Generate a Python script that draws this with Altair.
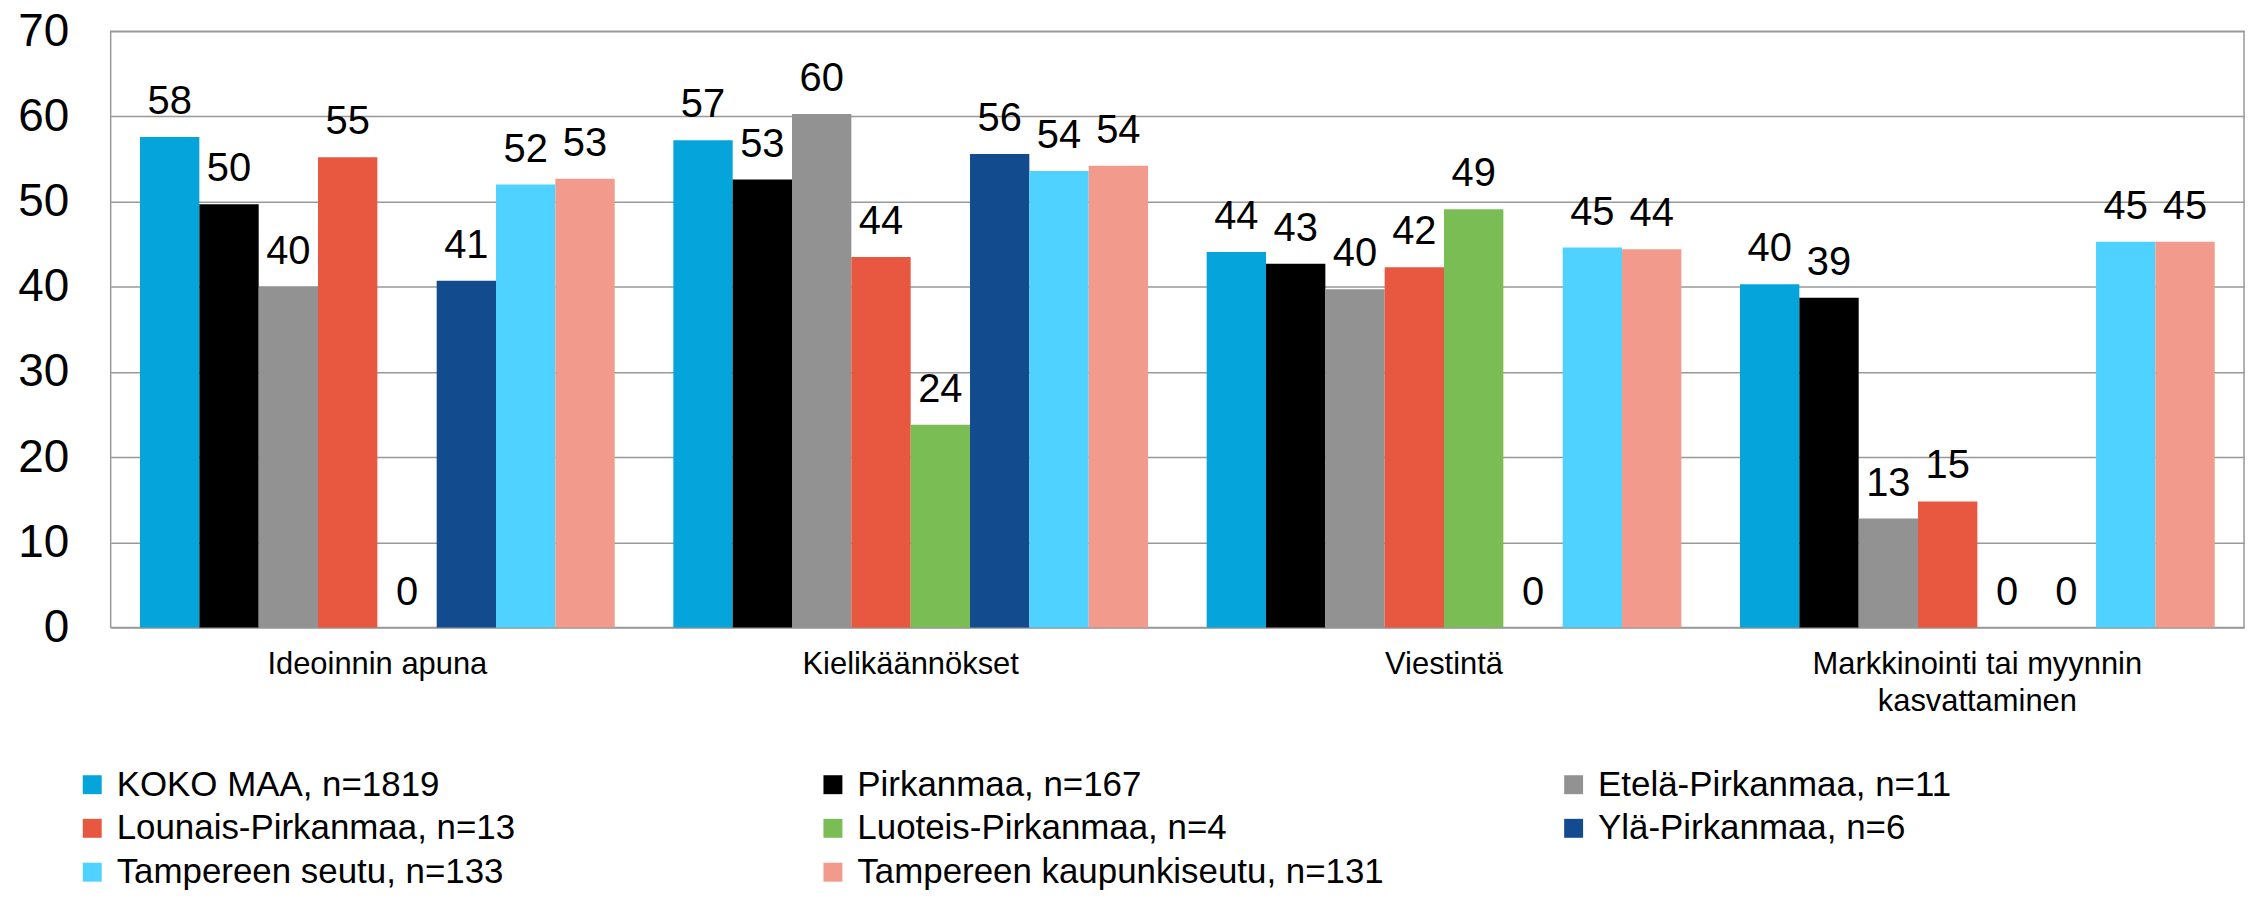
import altair as alt
import pandas as pd

FONT = "Liberation Sans, Arial, sans-serif"

categories = [
    "Ideoinnin apuna",
    "Kielikäännökset",
    "Viestintä",
    "Markkinointi tai myynnin kasvattaminen",
]
series = [
    "KOKO MAA, n=1819",
    "Pirkanmaa, n=167",
    "Etelä-Pirkanmaa, n=11",
    "Lounais-Pirkanmaa, n=13",
    "Luoteis-Pirkanmaa, n=4",
    "Ylä-Pirkanmaa, n=6",
    "Tampereen seutu, n=133",
    "Tampereen kaupunkiseutu, n=131",
]
colors = ["#05A4DA", "#000000", "#929292", "#E85841", "#79BD54", "#134B8F", "#4FD2FF", "#F29A8C"]

koko_maa = [57.6, 57.2, 44.1, 40.3]
pirkanmaa = [49.7, 52.6, 42.7, 38.7]
etela_pirkanmaa = [40.0, 60.3, 39.7, 12.8]
lounais_pirkanmaa = [55.2, 43.5, 42.3, 14.8]
luoteis_pirkanmaa = [0.0, 23.8, 49.1, 0.0]
yla_pirkanmaa = [40.7, 55.6, 0.0, 0.0]
tampereen_seutu = [52.0, 53.6, 44.6, 45.3]
tampereen_kaupunkiseutu = [52.7, 54.2, 44.4, 45.3]

values_by_series = [
    koko_maa, pirkanmaa, etela_pirkanmaa, lounais_pirkanmaa,
    luoteis_pirkanmaa, yla_pirkanmaa, tampereen_seutu, tampereen_kaupunkiseutu,
]

rows = []
for s, vals in zip(series, values_by_series):
    for c, v in zip(categories, vals):
        rows.append({"category": c, "series": s, "value": v})
df = pd.DataFrame(rows)

x_enc = alt.X(
    "category:N",
    sort=categories,
    scale=alt.Scale(paddingInner=0.11, paddingOuter=0.055),
    axis=alt.Axis(
        title=None,
        labelAngle=0,
        labelFontSize=31,
        labelPadding=22,
        labelLineHeight=37,
        labelLimit=2000,
        ticks=False,
        tickSize=0,
        domain=False,
        grid=False,
        labelExpr="length(datum.value) > 30 ? [slice(datum.value, 0, lastindexof(datum.value, ' ')), slice(datum.value, lastindexof(datum.value, ' ') + 1)] : datum.value",
    ),
)
xoff_enc = alt.XOffset("series:N", sort=series, scale=alt.Scale(paddingInner=0, paddingOuter=0))
y_enc = alt.Y(
    "value:Q",
    scale=alt.Scale(domain=[0, 70], nice=False),
    axis=alt.Axis(
        title=None,
        values=list(range(0, 71, 10)),
        labelFontSize=46,
        labelPadding=42,
        ticks=False,
        tickSize=0,
        domain=False,
        grid=True,
        gridColor="#999999",
        gridWidth=1.5,
    ),
)

bars = alt.Chart(df).mark_bar(stroke=None).encode(
    x=x_enc,
    xOffset=xoff_enc,
    y=y_enc,
    color=alt.Color(
        "series:N",
        sort=series,
        scale=alt.Scale(domain=series, range=colors),
        legend=alt.Legend(
            title=None,
            orient="none",
            legendX=-36,
            legendY=738,
            columns=3,
            direction="horizontal",
            gridAlign="all",
            columnPadding=172,
            rowPadding=8,
            symbolType="square",
            symbolSize=361,
            symbolStrokeWidth=0,
            symbolOpacity=1,
            labelFontSize=35,
            labelOffset=7,
            labelLimit=2000,
            padding=0,
        ),
    ),
)

labels = alt.Chart(df).mark_text(
    baseline="alphabetic", align="center", dy=-23, fontSize=40, font=FONT, color="black"
).encode(
    x=x_enc,
    xOffset=xoff_enc,
    y=y_enc,
    text=alt.Text("value:Q", format=".0f"),
)

chart = (
    alt.layer(bars, labels)
    .properties(
        width=2140,
        height=598,
        autosize=alt.AutoSizeParams(type="none"),
        padding={"left": 103, "top": 22, "right": 8, "bottom": 263},
        background="white",
    )
    .configure(font=FONT)
    .configure_view(stroke="#999999", strokeWidth=1.5)
    .configure_axis(labelFont=FONT, labelColor="black")
    .configure_legend(labelFont=FONT, labelColor="black")
)

chart.save("out.html", embed_options={"renderer": "svg", "actions": False})
